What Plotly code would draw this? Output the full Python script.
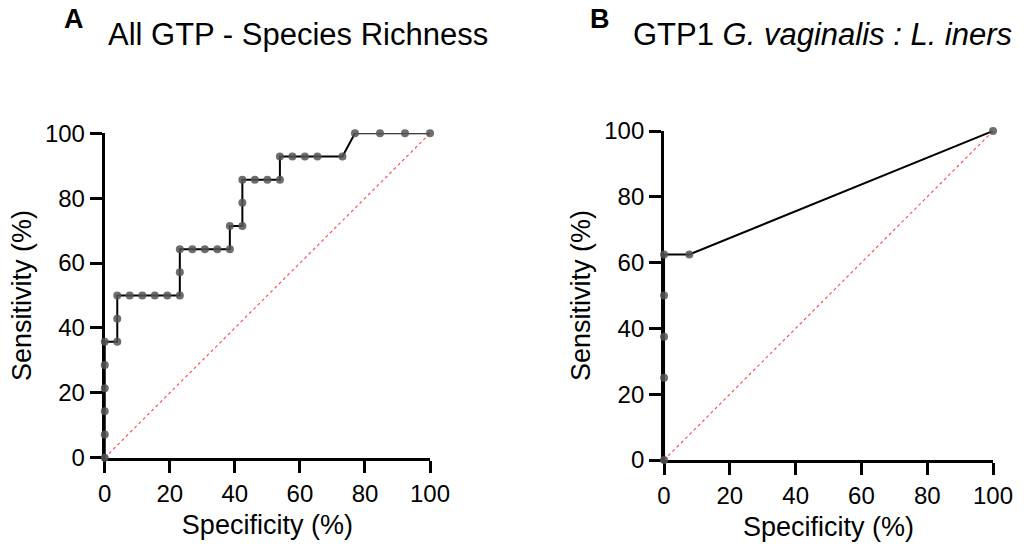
import plotly.graph_objects as go

# ROC curve, panel A: all GTP, species richness (specificity %, sensitivity %)
spec_a = [0, 0, 0, 0, 0, 0, 3.85, 3.85, 3.85, 7.69, 11.54, 15.38, 19.23,
          23.08, 23.08, 23.08, 26.92, 30.77, 34.62, 38.46, 38.46,
          42.31, 42.31, 42.31, 46.15, 50.0, 53.85, 53.85,
          57.69, 61.54, 65.38, 73.08, 76.92, 84.62, 92.31, 100]
sens_a = [0, 7.14, 14.29, 21.43, 28.57, 35.71, 35.71, 42.86, 50, 50, 50, 50, 50,
          50, 57.14, 64.29, 64.29, 64.29, 64.29, 64.29, 71.43,
          71.43, 78.57, 85.71, 85.71, 85.71, 85.71, 92.86,
          92.86, 92.86, 92.86, 92.86, 100, 100, 100, 100]

# ROC curve, panel B: GTP1 G. vaginalis : L. iners ratio
spec_b = [0, 0, 0, 0, 0, 7.69, 100]
sens_b = [0, 25, 37.5, 50, 62.5, 62.5, 100]

# line of identity
ref_line = [0, 100]

ticks = [0, 20, 40, 60, 80, 100]
FONT = "Liberation Sans, Arial, sans-serif"

fig = go.Figure()

for spec, sens, ax in [(spec_a, sens_a, ""), (spec_b, sens_b, "2")]:
    fig.add_trace(go.Scatter(
        x=ref_line, y=ref_line, mode="lines",
        line=dict(color="#ff5050", width=1.2, dash="dot"),
        xaxis="x" + ax, yaxis="y" + ax, hoverinfo="skip", cliponaxis=False,
    ))
    fig.add_trace(go.Scatter(
        x=spec, y=sens, mode="lines+markers",
        line=dict(color="black", width=2),
        marker=dict(color="rgba(85,85,85,0.85)", size=8),
        xaxis="x" + ax, yaxis="y" + ax, cliponaxis=False,
    ))

axis_style = dict(
    range=[0, 100], tickvals=ticks, ticktext=[str(t) for t in ticks],
    showgrid=False, zeroline=False, showline=True, linecolor="black", linewidth=3,
    ticks="outside", ticklen=12, tickwidth=3, tickcolor="black",
    tickfont=dict(family=FONT, size=24, color="black"),
    layer="below traces", automargin=False,
)

xtitle = dict(text="Specificity (%)", font=dict(size=27), standoff=10)
ytitle = dict(text="Sensitivity (%)", font=dict(size=27), standoff=6)

fig.update_layout(
    width=1030, height=550,
    margin=dict(l=0, r=0, t=0, b=0),
    paper_bgcolor="white", plot_bgcolor="white",
    showlegend=False,
    font=dict(family=FONT, color="black"),
    xaxis=dict(axis_style, domain=[0.1017, 0.4175], anchor="y", title=xtitle),
    yaxis=dict(axis_style, domain=[0.1678, 0.7576], anchor="x", title=ytitle),
    xaxis2=dict(axis_style, domain=[0.6447, 0.9641], anchor="y2", title=xtitle),
    yaxis2=dict(axis_style, domain=[0.1636, 0.7618], anchor="x2", title=ytitle),
    annotations=[
        dict(text="<b>A</b>", x=62 / 1030, y=0.965, xref="paper", yref="paper",
             xanchor="left", yanchor="middle", showarrow=False, font=dict(size=27)),
        dict(text="All GTP - Species Richness", x=106 / 1030, y=0.938, xref="paper",
             yref="paper", xanchor="left", yanchor="middle", showarrow=False,
             font=dict(size=31)),
        dict(text="<b>B</b>", x=588 / 1030, y=0.965, xref="paper", yref="paper",
             xanchor="left", yanchor="middle", showarrow=False, font=dict(size=27)),
        dict(text="GTP1 <i>G. vaginalis : L. iners</i>", x=631 / 1030, y=0.938,
             xref="paper", yref="paper", xanchor="left", yanchor="middle",
             showarrow=False, font=dict(size=31)),
    ],
)

fig.write_html("out.html")
